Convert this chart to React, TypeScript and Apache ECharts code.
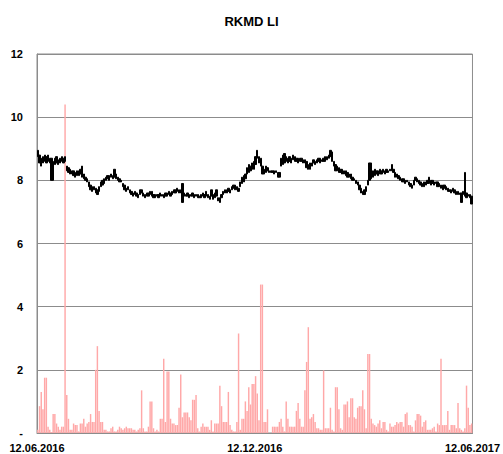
import React, { useEffect, useRef } from "react";
import * as echarts from "echarts";

const title = "RKMD LI";
const xTickLabels = ["12.06.2016", "12.12.2016", "12.06.2017"];
const yTickLabels = ["-", "2", "4", "6", "8", "10", "12"];

// daily low / high of the price (black bars)
const lows = [
  8.75, 8.55, 8.45, 8.55, 8.6, 8.55, 8.6, 8.55, 8.0, 8.0,
  8.5, 8.55, 8.5, 8.55, 8.6, 8.55, 8.6, 8.3, 8.25, 8.2,
  8.2, 8.15, 8.1, 8.15, 8.15, 8.2, 8.1, 8.05, 8.0, 7.95,
  7.8, 7.7, 7.65, 7.7, 7.6, 7.55, 7.65, 7.8, 7.85, 7.9,
  8.0, 8.05, 8.0, 8.1, 8.05, 8.1, 8.05, 8.0, 7.95, 7.95,
  7.8, 7.7, 7.65, 7.7, 7.6, 7.55, 7.5, 7.55, 7.5, 7.45,
  7.55, 7.6, 7.5, 7.45, 7.5, 7.5, 7.55, 7.5, 7.45, 7.45,
  7.5, 7.45, 7.5, 7.5, 7.45, 7.5, 7.5, 7.55, 7.5, 7.55,
  7.6, 7.6, 7.65, 7.6, 7.6, 7.3, 7.5, 7.5, 7.5, 7.45,
  7.5, 7.5, 7.45, 7.5, 7.45, 7.45, 7.45, 7.5, 7.45, 7.5,
  7.45, 7.4, 7.5, 7.4, 7.45, 7.5, 7.35, 7.3, 7.45, 7.55,
  7.6, 7.6, 7.65, 7.6, 7.7, 7.75, 7.7, 7.7, 7.65, 7.8,
  7.9, 7.95, 8.05, 8.2, 8.25, 8.3, 8.35, 8.35, 8.5, 8.7,
  8.55, 8.45, 8.2, 8.2, 8.25, 8.3, 8.25, 8.25, 8.25, 8.2,
  8.25, 8.1, 8.1, 8.45, 8.5, 8.55, 8.6, 8.55, 8.6, 8.55,
  8.65, 8.6, 8.6, 8.55, 8.6, 8.6, 8.55, 8.55, 8.4, 8.35,
  8.35, 8.45, 8.55, 8.5, 8.55, 8.6, 8.55, 8.6, 8.6, 8.6,
  8.65, 8.7, 8.75, 8.6, 8.45, 8.3, 8.3, 8.25, 8.25, 8.2,
  8.2, 8.15, 8.1, 8.1, 8.05, 8.0, 8.0, 7.9, 7.85, 7.7,
  7.6, 7.55, 7.55, 7.65, 7.85, 8.0, 8.05, 8.1, 8.15, 8.2,
  8.15, 8.2, 8.2, 8.25, 8.2, 8.25, 8.25, 8.3, 8.3, 8.25,
  8.1, 8.1, 8.05, 8.0, 7.95, 7.95, 7.9, 7.95, 7.85, 7.8,
  7.75, 7.85, 8.0, 7.95, 7.9, 7.85, 7.8, 7.8, 7.85, 7.9,
  7.9, 7.85, 7.9, 7.85, 7.9, 7.8, 7.8, 7.75, 7.7, 7.75,
  7.7, 7.65, 7.65, 7.6, 7.65, 7.6, 7.55, 7.55, 7.55, 7.3,
  7.55, 7.5, 7.45, 7.5, 7.45, 7.25,
];

const highs = [
  8.95, 8.8, 8.7, 8.75, 8.8, 8.75, 8.8, 8.7, 8.7, 8.6,
  8.7, 8.75, 8.65, 8.7, 8.75, 8.7, 8.75, 8.45, 8.4, 8.35,
  8.3, 8.3, 8.25, 8.3, 8.3, 8.35, 8.45, 8.2, 8.1, 8.05,
  7.95, 7.85, 7.8, 7.8, 7.75, 7.7, 7.8, 7.95, 8.0, 8.05,
  8.1, 8.15, 8.15, 8.2, 8.15, 8.35, 8.2, 8.1, 8.05, 8.0,
  7.9, 7.85, 7.75, 7.8, 7.7, 7.65, 7.6, 7.65, 7.6, 7.55,
  7.7, 7.7, 7.6, 7.55, 7.6, 7.6, 7.65, 7.65, 7.55, 7.55,
  7.55, 7.55, 7.6, 7.55, 7.55, 7.6, 7.6, 7.65, 7.6, 7.65,
  7.7, 7.7, 7.75, 7.7, 7.7, 7.9, 7.6, 7.55, 7.6, 7.55,
  7.55, 7.6, 7.55, 7.55, 7.55, 7.5, 7.55, 7.6, 7.55, 7.65,
  7.55, 7.5, 7.7, 7.55, 7.6, 7.7, 7.45, 7.45, 7.55, 7.65,
  7.7, 7.7, 7.75, 7.7, 7.8, 7.85, 7.85, 7.8, 7.75, 7.95,
  8.1, 8.15, 8.2, 8.4, 8.5, 8.45, 8.55, 8.6, 8.75, 8.95,
  8.75, 8.7, 8.45, 8.35, 8.45, 8.4, 8.3, 8.3, 8.3, 8.3,
  8.3, 8.25, 8.25, 8.7, 8.8, 8.85, 8.75, 8.7, 8.75, 8.7,
  8.8, 8.75, 8.7, 8.7, 8.7, 8.7, 8.65, 8.65, 8.6, 8.5,
  8.55, 8.55, 8.65, 8.6, 8.65, 8.7, 8.7, 8.65, 8.7, 8.75,
  8.75, 8.8, 8.95, 8.9, 8.6, 8.5, 8.45, 8.4, 8.35, 8.35,
  8.3, 8.3, 8.25, 8.2, 8.2, 8.1, 8.05, 8.0, 7.95, 7.85,
  7.75, 7.65, 7.7, 7.8, 8.0, 8.55, 8.55, 8.3, 8.35, 8.3,
  8.3, 8.35, 8.3, 8.35, 8.3, 8.35, 8.3, 8.35, 8.5, 8.35,
  8.25, 8.2, 8.15, 8.1, 8.05, 8.05, 8.0, 8.0, 7.95, 7.9,
  7.85, 8.0, 8.1, 8.05, 8.0, 7.95, 7.9, 7.95, 7.95, 8.0,
  8.1, 8.0, 8.0, 7.95, 7.95, 7.95, 7.9, 7.85, 7.85, 7.85,
  7.8, 7.75, 7.7, 7.7, 7.75, 7.7, 7.65, 7.65, 7.6, 7.6,
  7.65, 8.25, 7.6, 7.55, 7.55, 7.5,
];

// daily volume (pink bars), same axis
const volumes = [
  0.1, 0.85, 1.3, 0.75, 1.75, 1.75, 0.2, 0.1, 0.03, 0.6,
  0.6, 0.3, 0.2, 0.1, 0.2, 0.2, 10.4, 1.2, 0.45, 0.1,
  0.1, 0.3, 0.25, 0.25, 0.05, 0.3, 0.3, 0.45, 0.2, 0.3,
  0.35, 0.6, 0.35, 0.35, 2.0, 2.75, 0.7, 0.35, 0.35, 0.1,
  0.1, 0.05, 0.05, 0.15, 0.2, 0.05, 0.05, 0.1, 0.2, 0.15,
  0.1, 0.15, 0.2, 0.15, 0.15, 0.15, 0.1, 0.1, 0.05, 0.1,
  0.15, 1.35, 0.15, 0.05, 0.05, 0.2, 1.0, 1.0, 0.15, 0.05,
  0.1, 0.05, 0.45, 0.45, 2.35, 0.35, 1.95, 1.95, 0.45, 0.3,
  0.3, 0.25, 0.25, 0.8, 1.85, 0.5, 0.65, 0.65, 0.65, 0.5,
  0.4, 1.05, 1.05, 1.2, 0.15, 0.05, 0.2, 0.3, 0.2, 0.2,
  0.2, 0.1, 0.4, 0.05, 0.3, 0.3, 0.3, 1.5, 0.85, 0.35,
  0.35, 0.35, 1.3, 0.25, 0.1, 0.05, 0.05, 0.35, 3.15, 0.1,
  0.45, 0.45, 1.0, 0.7, 1.45, 0.9, 1.55, 1.55, 1.8, 1.25,
  0.4, 4.7, 4.7, 0.35, 0.35, 0.75, 0, 0, 0.2, 0.2,
  0.2, 0.2, 0.35, 0.45, 0.2, 0.05, 1.0, 0.45, 0.2, 0.2,
  0.2, 0.2, 0.7, 0.95, 0.45, 0.2, 0.2, 1.35, 2.25, 3.35,
  0.45, 0.5, 0.6, 0.35, 0.15, 0.15, 0.1, 0.1, 1.98, 0.15,
  0.15, 0.15, 0.8, 0.1, 0.05, 1.45, 1.45, 0.75, 0.15, 0.1,
  0.9, 0.9, 1.0, 0.5, 1.1, 1.1, 0.5, 0.45, 0.8, 0.85,
  0.85, 1.35, 0.75, 0.15, 2.5, 2.5, 0.45, 0.3, 0.25, 0.2,
  0.3, 0.4, 0.15, 0.35, 0.35, 0.1, 0.05, 0.3, 0.2, 0.2,
  0.25, 0.35, 0.3, 0.35, 0.35, 0.2, 0.6, 0.65, 0.25, 0.25,
  0.2, 0.05, 0.4, 0.6, 0.6, 0.55, 0.2, 0.35, 0.4, 0.1,
  0.1, 0.1, 0.15, 0.2, 0.05, 0.3, 0.25, 2.35, 0.25, 0.25,
  0.25, 0.7, 0.1, 0.25, 0.25, 0.25, 0.15, 0.95, 0.15, 0.1,
  0.05, 0.15, 1.5, 0.8, 0.25, 0.3,
];

const FONT = "'Liberation Sans', Arial, sans-serif";

export default function App() {
  const ref = useRef<HTMLDivElement>(null);

  useEffect(() => {
    if (!ref.current) return;
    const chart = echarts.init(ref.current, undefined, { renderer: "svg" });
    const cats = lows.map((_, i) => String(i));
    const candles = lows.map((lo, i) => [lo, highs[i], lo, highs[i]]);

    chart.setOption({
      animation: false,
      backgroundColor: "#ffffff",
      title: {
        text: title,
        left: "center",
        top: 10,
        textStyle: { fontFamily: FONT, fontSize: 13, fontWeight: "bold", color: "#000" },
      },
      grid: {
        left: 37,
        right: 27,
        top: 54,
        bottom: 21,
        show: true,
        borderColor: "#8c8c8c",
        borderWidth: 1,
        backgroundColor: "transparent",
      },
      xAxis: [
        {
          type: "category",
          data: cats,
          boundaryGap: true,
          axisLine: { show: true, lineStyle: { color: "#8c8c8c" } },
          axisTick: { show: false },
          axisLabel: { show: false },
          splitLine: { show: false },
        },
        {
          type: "value",
          min: 0,
          max: xTickLabels.length - 1,
          interval: 1,
          position: "bottom",
          axisLine: { show: false },
          axisTick: { show: false },
          splitLine: { show: false },
          axisLabel: {
            show: true,
            showMinLabel: true,
            showMaxLabel: true,
            margin: 9,
            fontFamily: FONT,
            fontSize: 11,
            fontWeight: "bold",
            color: "#000",
            formatter: (v: number) => xTickLabels[Math.round(v)] ?? "",
          },
        },
      ],
      yAxis: {
        type: "value",
        min: 0,
        max: 12,
        interval: 2,
        axisLine: { show: true, lineStyle: { color: "#8c8c8c" } },
        axisTick: { show: false },
        splitLine: { show: true, lineStyle: { color: "#8c8c8c", width: 1 } },
        axisLabel: {
          margin: 14,
          fontFamily: FONT,
          fontSize: 11,
          fontWeight: "bold",
          color: "#000",
          formatter: (v: number) => yTickLabels[Math.round(v / 2)] ?? "",
        },
      },
      series: [
        {
          type: "bar",
          xAxisIndex: 0,
          data: volumes,
          barCategoryGap: "15%",
          itemStyle: { color: "#ffa8a8" },
          z: 1,
        },
        {
          type: "candlestick",
          xAxisIndex: 0,
          data: candles,
          barWidth: 1.8,
          itemStyle: {
            color: "#000000",
            color0: "#000000",
            borderColor: "#000000",
            borderColor0: "#000000",
            borderWidth: 1,
          },
          z: 3,
        },
      ],
    });
    return () => chart.dispose();
  }, []);

  return (
    <div
      ref={ref}
      style={{ position: "fixed", left: 0, top: 0, width: 503, height: 454, background: "#fff" }}
    />
  );
}
